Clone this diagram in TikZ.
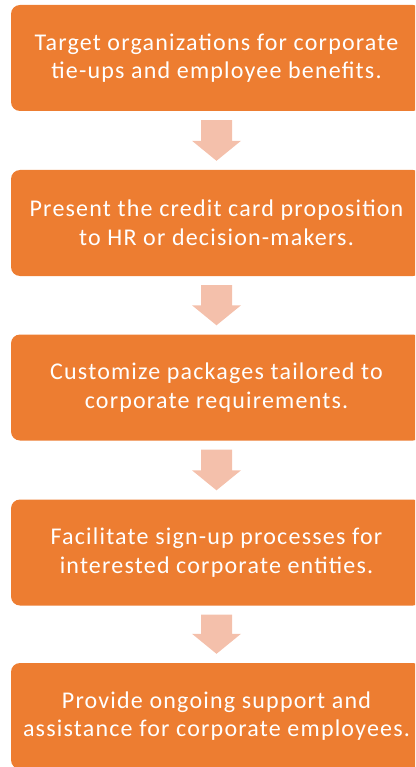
\documentclass[tikz,border=0pt]{standalone}
\usepackage{fontspec}
\setmainfont{Carlito}[LetterSpace=5]
\usetikzlibrary{calc}
\definecolor{boxorange}{HTML}{ED7D31}
\definecolor{arrowpink}{HTML}{F4C0AB}
\begin{document}
\begin{tikzpicture}[x=1pt,y=1pt,
  stepbox/.style={draw=none,fill=boxorange,rounded corners=9pt,minimum width=411pt,minimum height=106pt,text=white,align=center,font=\fontsize{24}{28.5}\selectfont,inner sep=0pt},
  downarrow/.style={fill=arrowpink,draw=none}]
\useasboundingbox (0,0) rectangle (415,-767);
\begin{scope}
\clip (0,0) rectangle (415,-767);
\node[stepbox] (b1) at (216.5,-58) {Target organizations for corporate\\tie-ups and employee benefits.};
\node[stepbox] (b2) at (216.5,-223) {Present the credit card proposition\\to HR or decision-makers.};
\node[stepbox] (b3) at (216.5,-387.5) {Customize packages tailored to\\corporate requirements.};
\node[stepbox] (b4) at (216.5,-552.5) {Facilitate sign-up processes for\\interested corporate entities.};
\node[stepbox] (b5) at (216.5,-716) {Provide ongoing support and\\assistance for corporate employees.};
\end{scope}
\foreach \a/\b in {b1/b2,b2/b3,b3/b4,b4/b5}{
  \path (\a.south) ++(0,-9) coordinate (top-\a);
  \path (\b.north) ++(0,9) coordinate (tip-\b);
  \fill[downarrow] ($(top-\a)+(-15.5,0)$) -- ($(top-\a)+(15.5,0)$) -- ($(tip-\b)+(15.5,20)$) -- ($(tip-\b)+(24.5,20)$) -- (tip-\b) -- ($(tip-\b)+(-24.5,20)$) -- ($(tip-\b)+(-15.5,20)$) -- cycle;
}
\end{tikzpicture}
\end{document}
